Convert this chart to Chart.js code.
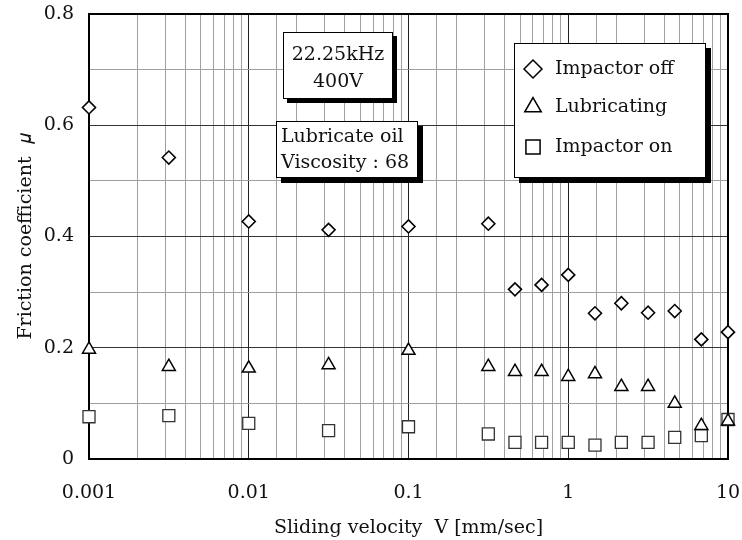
<!DOCTYPE html>
<html>
<head>
<meta charset="utf-8">
<script src="https://cdn.jsdelivr.net/npm/chart.js@4.4.1/dist/chart.umd.min.js"></script>
<style>
  html, body { margin: 0; padding: 0; background: #fff; }
  #wrap { width: 742px; height: 540px; }
</style>
</head>
<body>
<div id="wrap"><canvas id="graph"></canvas></div>
<script>
// ── Données : vitesse de glissement [mm/s] et coefficient de frottement ──
const VITESSES = [0.001, 0.00316, 0.01, 0.0316, 0.1, 0.316, 0.464, 0.681, 1, 1.47, 2.15, 3.16, 4.64, 6.81, 10];
const IMPACTOR_OFF = [0.632, 0.542, 0.427, 0.412, 0.418, 0.423, 0.305, 0.313, 0.331, 0.262, 0.280, 0.263, 0.266, 0.215, 0.228];
const LUBRICATING  = [0.197, 0.166, 0.163, 0.169, 0.195, 0.166, 0.157, 0.157, 0.148, 0.153, 0.130, 0.130, 0.100, 0.060, 0.068];
const IMPACTOR_ON  = [0.076, 0.078, 0.064, 0.051, 0.058, 0.045, 0.030, 0.030, 0.030, 0.025, 0.030, 0.030, 0.039, 0.042, 0.071];

const SERIES = ['Impactor off', 'Lubricating', 'Impactor on'];
const CONDITIONS = ['22.25kHz', '400V'];
const HUILE = ['Lubricate oil', 'Viscosity : 68'];

const POLICE = '"DejaVu Serif", serif';
Chart.defaults.font.family = POLICE;
Chart.defaults.color = '#111';

const points = (ys) => VITESSES.map((x, i) => ({ x, y: ys[i] }));
const estDecade = (v) => Math.abs(Math.log10(v) - Math.round(Math.log10(v))) < 1e-6;

// Symboles : losange, triangle, carré (creux)
const STYLES = [
    { pointStyle: 'rectRot',  pointRadius: 6.5, pointBorderWidth: 1.6, pointBorderColor: '#000' },
    { pointStyle: 'triangle', pointRadius: 7.5, pointBorderWidth: 1.5, pointBorderColor: '#000' },
    { pointStyle: 'rect',     pointRadius: 8.5, pointBorderWidth: 1.3, pointBorderColor: '#333' },
];

// Cadre noir épais autour de la zone de tracé
const cadre = {
    id: 'cadre',
    beforeDatasetsDraw(chart) {
        const { ctx, chartArea: a } = chart;
        ctx.save();
        ctx.strokeStyle = '#000';
        ctx.lineWidth = 2;
        ctx.strokeRect(a.left, a.top, a.right - a.left, a.bottom - a.top);
        ctx.restore();
    },
};

// Encadré avec ombre portée
function boite(ctx, x, y, w, h, ombre) {
    ctx.fillStyle = '#000';
    ctx.fillRect(x + ombre, y + ombre, w, h);
    ctx.fillStyle = '#fff';
    ctx.fillRect(x, y, w, h);
    ctx.strokeStyle = '#000';
    ctx.lineWidth = 1;
    ctx.strokeRect(x + 0.5, y + 0.5, w - 1, h - 1);
}

// Légende et annotations dessinées dans la zone de tracé
const encadres = {
    id: 'encadres',
    afterDraw(chart) {
        const { ctx, chartArea: a } = chart;
        ctx.save();
        ctx.font = '19px ' + POLICE;
        ctx.textBaseline = 'middle';

        // conditions d'excitation
        boite(ctx, a.left + 194, a.top + 18, 110, 67, 4);
        ctx.fillStyle = '#111';
        ctx.textAlign = 'center';
        ctx.fillText(CONDITIONS[0], a.left + 249, a.top + 41);
        ctx.fillText(CONDITIONS[1], a.left + 249, a.top + 68);

        // lubrifiant
        boite(ctx, a.left + 187, a.top + 107, 142, 57, 5);
        ctx.fillStyle = '#111';
        ctx.textAlign = 'left';
        ctx.fillText(HUILE[0], a.left + 192, a.top + 123);
        ctx.fillText(HUILE[1], a.left + 192, a.top + 149);

        // légende
        boite(ctx, a.left + 425, a.top + 29, 192, 135, 5);
        const rangs = [55, 93, 133];
        const rayons = [9, 9.5, 10];
        chart.data.datasets.forEach((ds, i) => {
            const y = a.top + rangs[i];
            ctx.fillStyle = '#fff';
            ctx.strokeStyle = '#000';
            ctx.lineWidth = 1.5;
            Chart.helpers.drawPoint(ctx, {
                pointStyle: ds.pointStyle, radius: rayons[i], rotation: 0, borderWidth: 1.5,
            }, a.left + 444, y);
            ctx.fillStyle = '#111';
            ctx.fillText(ds.label, a.left + 466, y);
        });
        ctx.restore();
    },
};

new Chart(document.getElementById('graph'), {
    type: 'scatter',
    data: {
        datasets: [IMPACTOR_OFF, LUBRICATING, IMPACTOR_ON].map((ys, i) => ({
            label: SERIES[i],
            data: points(ys),
            showLine: false,
            clip: false,
            pointBackgroundColor: '#fff',
            pointHoverRadius: STYLES[i].pointRadius,
            ...STYLES[i],
        })),
    },
    options: {
        responsive: true,
        maintainAspectRatio: false,
        animation: false,
        events: [],
        layout: { padding: { top: 14, right: 14, left: 0, bottom: 0 } },
        plugins: { legend: { display: false }, tooltip: { enabled: false } },
        scales: {
            x: {
                type: 'logarithmic',
                min: 0.001,
                max: 10,
                afterFit: (s) => { s.height = 81; s.paddingLeft = 0; s.paddingRight = 0; },
                border: { display: false },
                grid: {
                    drawTicks: false,
                    color: (c) => (c.tick && estDecade(c.tick.value) ? '#222' : '#a0a0a0'),
                },
                ticks: {
                    autoSkip: false,
                    maxRotation: 0,
                    padding: 23,
                    font: { size: 19 },
                    callback: (v) => (estDecade(v) ? String(+v.toPrecision(1)) : ''),
                },
                title: {
                    display: true,
                    text: 'Sliding velocity  V [mm/sec]',
                    font: { size: 19 },
                    padding: { top: 0, bottom: 1 },
                },
            },
            y: {
                min: 0,
                max: 0.8,
                afterFit: (s) => { s.width = 89; s.paddingTop = 0; s.paddingBottom = 0; },
                border: { display: false },
                grid: {
                    drawTicks: false,
                    color: (c) => (c.tick && Math.round(c.tick.value * 10) % 2 === 0 ? '#333' : '#a0a0a0'),
                },
                ticks: {
                    stepSize: 0.1,
                    padding: 15,
                    font: { size: 19 },
                    callback: (v) => (Math.round(v * 10) % 2 === 0 ? String(Math.round(v * 10) / 10) : ''),
                },
                title: {
                    display: true,
                    text: 'Friction coefficient  𝜇',
                    font: { size: 19 },
                    padding: { top: 15, bottom: 0 },
                },
            },
        },
    },
    plugins: [cadre, encadres],
});
</script>
</body>
</html>
